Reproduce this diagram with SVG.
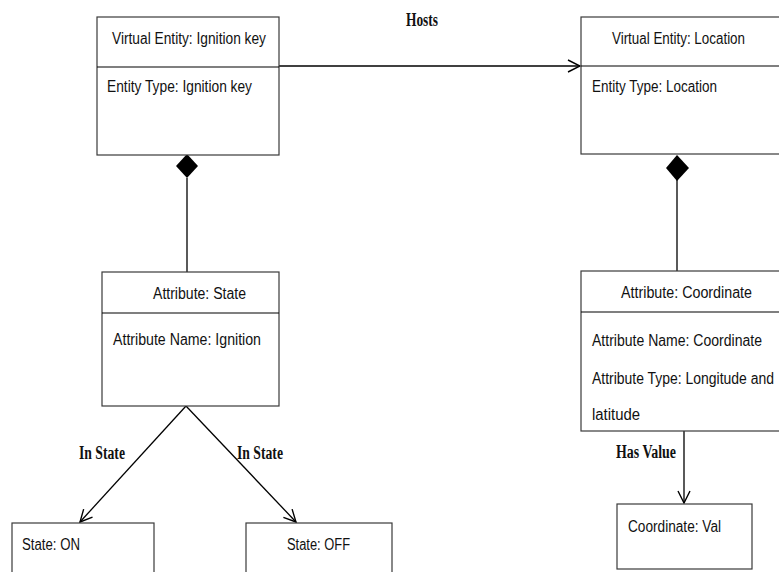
<svg xmlns="http://www.w3.org/2000/svg" width="779" height="572" viewBox="0 0 779 572">
  <style>
    .box { fill: #ffffff; stroke: #3a3a3a; stroke-width: 1.2; }
    .div { stroke: #000000; stroke-width: 1.2; }
    .lbl { font-family: "Liberation Sans", Arial, sans-serif; font-size: 16px; fill: #111111; }
    .rel { font-family: "Liberation Serif", "Times New Roman", serif; font-size: 18px; font-weight: bold; fill: #111111; }
    .edge { fill: none; stroke: #000000; stroke-width: 1.3; }
  </style>
  <defs>
    <marker id="open-arrow" viewBox="0 0 14 14" refX="13" refY="7" markerWidth="14" markerHeight="14" markerUnits="userSpaceOnUse" orient="auto">
      <path d="M1,1 L13,7 L1,13" fill="none" stroke="#000000" stroke-width="1.4"/>
    </marker>
  </defs>

  <rect width="779" height="572" fill="#ffffff"/>

  <!-- connectors -->
  <g id="connectors">
    <!-- Hosts -->
    <line class="edge" x1="279" y1="66" x2="580" y2="66" marker-end="url(#open-arrow)"/>
    <text class="rel" x="406" y="26" textLength="32" lengthAdjust="spacingAndGlyphs">Hosts</text>
    <!-- composition: Ignition key to State -->
    <line class="edge" x1="187" y1="178" x2="187" y2="272"/>
    <polygon points="187,154 198,166 187,178 176,166" fill="#000000"/>
    <!-- composition: Location to Coordinate -->
    <line class="edge" x1="677" y1="180" x2="677" y2="271"/>
    <polygon points="677,155 689,168 677,181 666,168" fill="#000000"/>
    <!-- In State (ON) -->
    <line class="edge" x1="186" y1="406" x2="80" y2="522" marker-end="url(#open-arrow)"/>
    <text class="rel" x="79" y="459" textLength="46" lengthAdjust="spacingAndGlyphs">In State</text>
    <!-- In State (OFF) -->
    <line class="edge" x1="186" y1="406" x2="296" y2="522" marker-end="url(#open-arrow)"/>
    <text class="rel" x="237" y="459" textLength="46" lengthAdjust="spacingAndGlyphs">In State</text>
    <!-- Has Value -->
    <line class="edge" x1="684" y1="431" x2="684" y2="503" marker-end="url(#open-arrow)"/>
    <text class="rel" x="616" y="458" textLength="60" lengthAdjust="spacingAndGlyphs">Has Value</text>
  </g>

  <!-- Virtual Entity: Ignition key -->
  <g id="ve-ignition-key">
    <rect class="box" x="97" y="17" width="182" height="138"/>
    <line class="div" x1="97" y1="67" x2="279" y2="67"/>
    <text class="lbl" x="112" y="44" textLength="154" lengthAdjust="spacingAndGlyphs">Virtual Entity: Ignition key</text>
    <text class="lbl" x="107" y="92" textLength="145" lengthAdjust="spacingAndGlyphs">Entity Type: Ignition key</text>
  </g>

  <!-- Virtual Entity: Location -->
  <g id="ve-location">
    <rect class="box" x="581" y="17" width="199" height="137"/>
    <line class="div" x1="581" y1="66" x2="780" y2="66"/>
    <text class="lbl" x="612" y="44" textLength="133" lengthAdjust="spacingAndGlyphs">Virtual Entity: Location</text>
    <text class="lbl" x="592" y="92" textLength="125" lengthAdjust="spacingAndGlyphs">Entity Type: Location</text>
  </g>

  <!-- Attribute: State -->
  <g id="attr-state">
    <rect class="box" x="102" y="272" width="177" height="134"/>
    <line class="div" x1="102" y1="313" x2="279" y2="313"/>
    <text class="lbl" x="153" y="299" textLength="93" lengthAdjust="spacingAndGlyphs">Attribute: State</text>
    <text class="lbl" x="113" y="345" textLength="148" lengthAdjust="spacingAndGlyphs">Attribute Name: Ignition</text>
  </g>

  <!-- Attribute: Coordinate -->
  <g id="attr-coordinate">
    <rect class="box" x="581" y="271" width="199" height="160"/>
    <line class="div" x1="581" y1="312" x2="780" y2="312"/>
    <text class="lbl" x="621" y="298" textLength="131" lengthAdjust="spacingAndGlyphs">Attribute: Coordinate</text>
    <text class="lbl" x="592" y="346" textLength="170" lengthAdjust="spacingAndGlyphs">Attribute Name: Coordinate</text>
    <text class="lbl" x="592" y="384" textLength="182" lengthAdjust="spacingAndGlyphs">Attribute Type: Longitude and</text>
    <text class="lbl" x="592" y="420" textLength="48" lengthAdjust="spacingAndGlyphs">latitude</text>
  </g>

  <!-- State: ON -->
  <g id="state-on">
    <rect class="box" x="12" y="523" width="142" height="60"/>
    <text class="lbl" x="22" y="550" textLength="58" lengthAdjust="spacingAndGlyphs">State: ON</text>
  </g>

  <!-- State: OFF -->
  <g id="state-off">
    <rect class="box" x="246" y="523" width="146" height="60"/>
    <text class="lbl" x="287" y="550" textLength="63" lengthAdjust="spacingAndGlyphs">State: OFF</text>
  </g>

  <!-- Coordinate: Val -->
  <g id="coordinate-val">
    <rect class="box" x="617" y="504" width="135" height="65"/>
    <text class="lbl" x="628" y="532" textLength="93" lengthAdjust="spacingAndGlyphs">Coordinate: Val</text>
  </g>
</svg>
